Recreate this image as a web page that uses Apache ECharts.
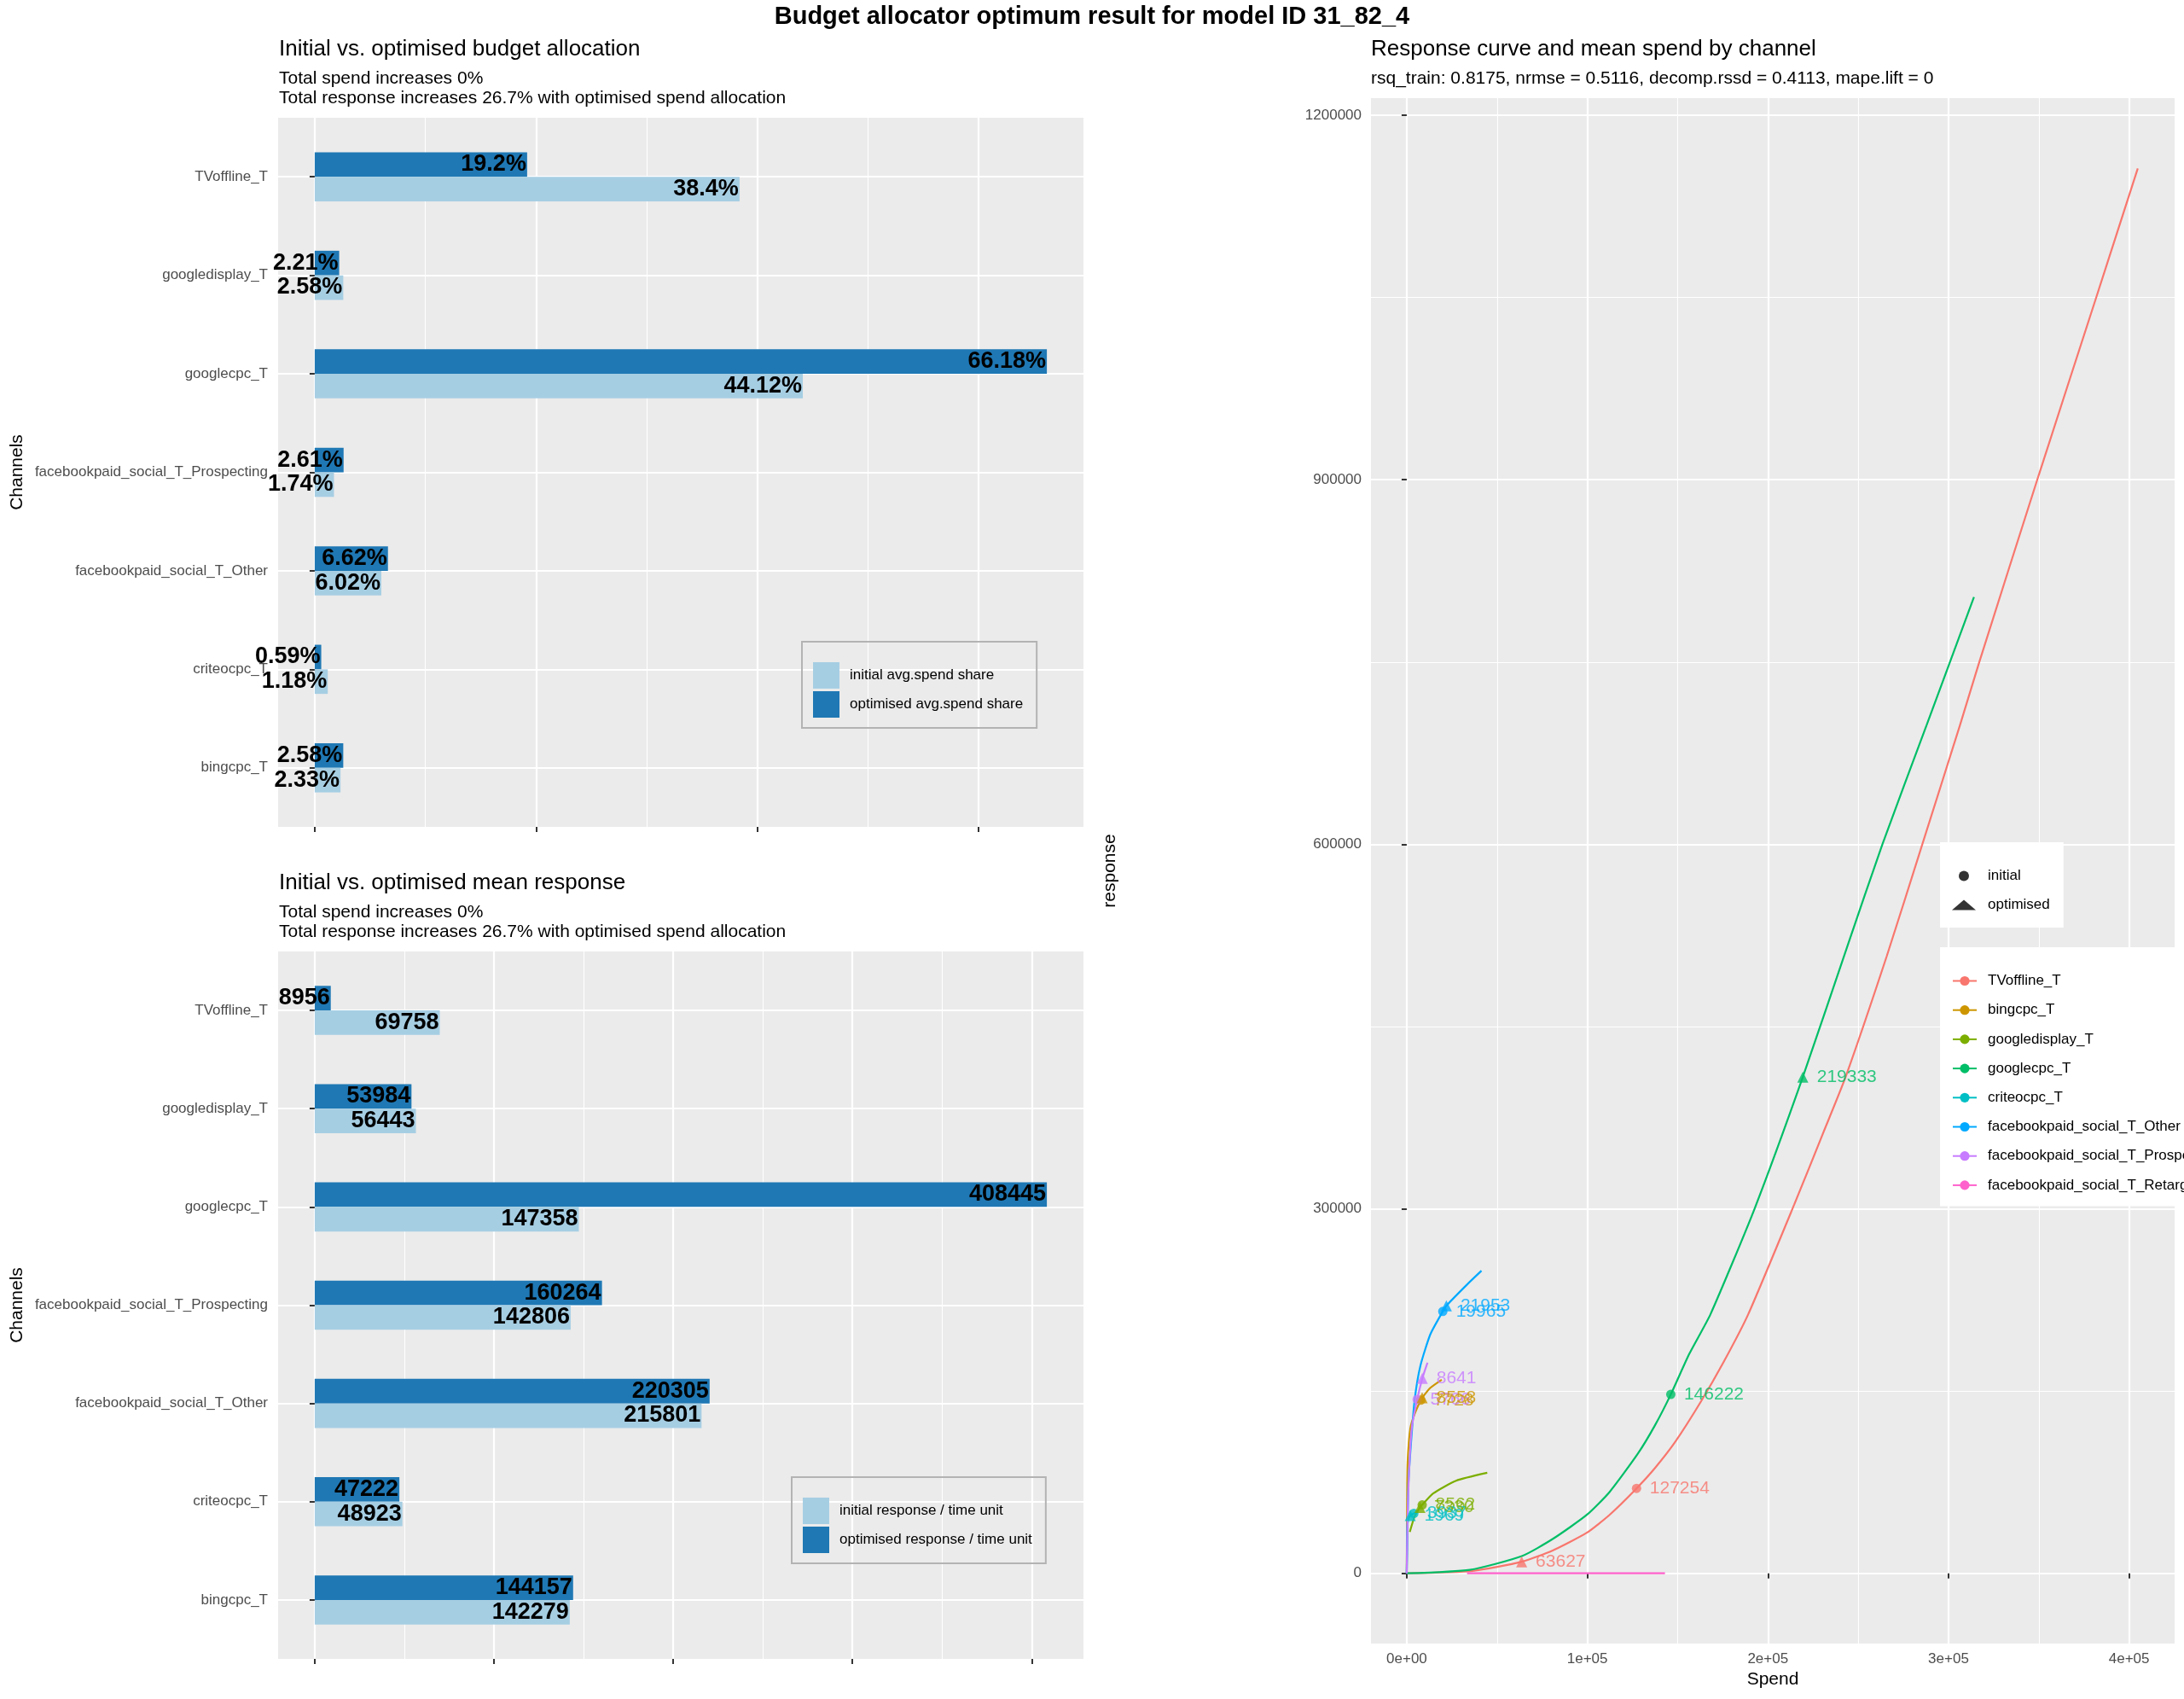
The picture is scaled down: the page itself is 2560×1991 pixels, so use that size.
<!DOCTYPE html>
<html>
<head>
<meta charset="utf-8">
<title>Budget allocator optimum result</title>
<script src="https://cdn.jsdelivr.net/npm/echarts@6/dist/echarts.min.js"></script>
<style>
  html, body { margin: 0; padding: 0; background: #fff; }
  #chart { width: 2560px; height: 1991px; }
</style>
</head>
<body>
<div id="chart"></div>
<script>
// bar panels, channels top to bottom
var barChannels = ['TVoffline_T', 'googledisplay_T', 'googlecpc_T', 'facebookpaid_social_T_Prospecting',
  'facebookpaid_social_T_Other', 'criteocpc_T', 'bingcpc_T'];
var spendShareInit = [38.4, 2.58, 44.12, 1.74, 6.02, 1.18, 2.33];
var spendShareOpt = [19.2, 2.21, 66.18, 2.61, 6.62, 0.59, 2.58];
var respInit = [69758, 56443, 147358, 142806, 215801, 48923, 142279];
var respOpt = [8956, 53984, 408445, 160264, 220305, 47222, 144157];

// axis ranges and breaks
var shareRange = [-3.309, 69.489];
var shareTicks = [0, 20, 40, 60];
var shareMinor = [10, 30, 50];
var respRange = [-20422, 428867];
var respTicks = [0, 100000, 200000, 300000, 400000];
var respMinor = [50000, 150000, 250000, 350000];
var spendRange = [-19800, 425200];
var spendTicks = [0, 100000, 200000, 300000, 400000];
var spendMinor = [50000, 150000, 250000, 350000];
var curveRange = [-57800, 1214100];
var curveTicks = [0, 300000, 600000, 900000, 1200000];
var curveMinor = [150000, 450000, 750000, 1050000];

// response curves (spend, response)
var curveChannels = ['TVoffline_T', 'bingcpc_T', 'googledisplay_T', 'googlecpc_T', 'criteocpc_T',
  'facebookpaid_social_T_Other', 'facebookpaid_social_T_Prospecting', 'facebookpaid_social_T_Retargeting'];
var curveTV = [[0, 0], [36600, 2000], [63627, 9500], [80800, 18800], [99700, 33400], [112300, 48100],
  [127254, 69900], [137500, 86700], [148500, 107800], [162600, 140600], [175300, 173400], [189100, 213200],
  [214600, 303600], [230700, 362800], [243000, 408400], [265800, 507900], [285500, 600000],
  [306300, 697800], [317000, 749800], [350000, 904000], [381500, 1048700], [404800, 1156300]];
var curveBing = [[0, 0], [200, 60000], [500, 91500], [2000, 119500], [4400, 131200], [7728, 142500],
  [8558, 144500], [13000, 152500], [19400, 159300]];
var curveDisplay = [[1700, 34000], [4400, 46900], [7330, 54300], [8562, 56300], [14600, 65700],
  [27300, 76200], [44600, 82700]];
var curveGoogle = [[0, 0], [35000, 2900], [63800, 14200], [80800, 28200], [99700, 48100], [112300, 66900],
  [128000, 98500], [137500, 121900], [146222, 147200], [156400, 180400], [168200, 213200], [192600, 300000],
  [219333, 408400], [244600, 518700], [263400, 600000], [287800, 697800], [314100, 803500]];
var curveCriteo = [[0, 0], [300, 38000], [1000, 45000], [1969, 47500], [3937, 49300], [5900, 50300]];
var curveFbOther = [[0, 0], [900, 72700], [2400, 107800], [4400, 143000], [7600, 171000], [13100, 196800],
  [19965, 215500], [21953, 220200], [33500, 237800], [41400, 249000]];
var curveFbProsp = [[0, 0], [500, 49000], [1300, 84400], [2800, 119800], [5766, 143000], [8641, 160500],
  [11500, 173400]];
var curveFbRetarget = [[33400, 0], [88000, 0], [143000, 0]];
var curves = [curveTV, curveBing, curveDisplay, curveGoogle, curveCriteo, curveFbOther, curveFbProsp, curveFbRetarget];

// mean spend points, same order as curveChannels (no point for retargeting)
var initialPoints = [[127254, 69900], [7728, 142500], [8562, 56300], [146222, 147200], [3937, 49300],
  [19965, 215500], [5766, 143000], null];
var optimisedPoints = [[63627, 9500], [8558, 144500], [7330, 54300], [219333, 408400], [1969, 47500],
  [21953, 220200], [8641, 160500], null];

var curveColors = ['#F8766D', '#CD9600', '#7CAE00', '#00BE67', '#00BFC4', '#00A9FF', '#C77CFF', '#FF61CC'];
var FONT = "'Liberation Sans', Arial, Helvetica, sans-serif";

var tickStyle = {show: true, length: 6, lineStyle: {color: '#333333', width: 2}};
var majorLine = {show: true, lineStyle: {color: '#FFFFFF', width: 2.2}};
var minorLine = {show: true, lineStyle: {color: '#FFFFFF', width: 1.1}};

function extend(a, b) { for (var k in b) a[k] = b[k]; return a; }

function sci(v) {
  if (v === 0) return '0e+00';
  var e = Math.floor(Math.log10(Math.abs(v)));
  var m = Math.round(v / Math.pow(10, e) * 100) / 100;
  return m + 'e+' + (e < 10 ? '0' : '') + e;
}

// background axis carrying the major lines and ticks
function majorX(grid, range, ticks, labels) {
  return {
    gridIndex: grid, type: 'value', min: range[0], max: range[1],
    axisLine: {show: false},
    axisTick: extend({customValues: ticks}, tickStyle),
    axisLabel: labels ? {show: true, customValues: ticks, formatter: sci, color: '#4D4D4D', fontSize: 17, margin: 10, fontFamily: FONT}
                      : {show: false, customValues: ticks},
    splitLine: majorLine
  };
}
function minorAxis(grid, range, ticks) {
  return {
    gridIndex: grid, type: 'value', min: range[0], max: range[1],
    axisLine: {show: false},
    axisTick: {show: false, customValues: ticks},
    axisLabel: {show: false},
    splitLine: minorLine
  };
}
function categoryY(grid) {
  return {
    gridIndex: grid, type: 'category', inverse: true, data: barChannels,
    axisLine: {show: false},
    axisTick: {show: true, alignWithLabel: true, length: 6, lineStyle: {color: '#333333', width: 2}},
    axisLabel: {color: '#4D4D4D', fontSize: 17, margin: 12, fontFamily: FONT},
    splitLine: {show: true, alignWithLabel: true, lineStyle: {color: '#FFFFFF', width: 2.2}},
    name: 'Channels', nameLocation: 'middle', nameGap: 295,
    nameTextStyle: {fontSize: 21, color: '#000', fontFamily: FONT}
  };
}
function barLabel(fmt) {
  return {show: true, position: 'insideRight', distance: 1, color: '#000', fontWeight: 'bold',
    fontSize: 27, fontFamily: FONT, formatter: fmt};
}
function boxLegend(left, top, names) {
  return {
    left: left, top: top, orient: 'vertical', data: names,
    icon: 'rect', itemWidth: 31, itemHeight: 31, itemGap: 3,
    padding: [24, 16, 12, 13], borderColor: '#B3B3B3', borderWidth: 2,
    textStyle: {fontSize: 17, color: '#000', fontFamily: FONT, padding: [0, 0, 0, 7]},
    selectedMode: false
  };
}

var chart = echarts.init(document.getElementById('chart'));

var lineSeries = curveChannels.map(function (name, i) {
  return {
    name: name, type: 'line', xAxisIndex: 6, yAxisIndex: 4, data: curves[i],
    symbol: 'circle', symbolSize: 11, showSymbol: false, smooth: 0.2,
    lineStyle: {width: 2.2, color: curveColors[i]}, itemStyle: {color: curveColors[i]},
    emphasis: {disabled: true}, z: 3
  };
});
function pointData(points) {
  var out = [];
  points.forEach(function (p, i) {
    if (!p) return;
    out.push({value: p, itemStyle: {color: curveColors[i]}, label: {color: curveColors[i]}});
  });
  return out;
}
var pointLabel = {show: true, position: 'right', distance: 10, fontSize: 21, fontFamily: FONT,
  formatter: function (p) { return p.value[0]; }};

var option = {
  animation: false,
  backgroundColor: '#FFFFFF',
  textStyle: {fontFamily: FONT},
  title: [
    {text: 'Budget allocator optimum result for model ID 31_82_4', left: 'center', top: 5, padding: 0,
     textStyle: {fontSize: 29, fontWeight: 'bold', color: '#000', fontFamily: FONT}},
    {text: 'Initial vs. optimised budget allocation',
     subtext: 'Total spend increases 0%\nTotal response increases 26.7% with optimised spend allocation',
     left: 327, top: 43, padding: 0, itemGap: 8,
     textStyle: {fontSize: 26, lineHeight: 30, fontWeight: 'normal', color: '#000', fontFamily: FONT},
     subtextStyle: {fontSize: 21, lineHeight: 23, color: '#000', fontFamily: FONT}},
    {text: 'Initial vs. optimised mean response',
     subtext: 'Total spend increases 0%\nTotal response increases 26.7% with optimised spend allocation',
     left: 327, top: 1020, padding: 0, itemGap: 8,
     textStyle: {fontSize: 26, lineHeight: 30, fontWeight: 'normal', color: '#000', fontFamily: FONT},
     subtextStyle: {fontSize: 21, lineHeight: 23, color: '#000', fontFamily: FONT}},
    {text: 'Response curve and mean spend by channel',
     subtext: 'rsq_train: 0.8175, nrmse = 0.5116, decomp.rssd = 0.4113, mape.lift = 0',
     left: 1607, top: 43, padding: 0, itemGap: 8,
     textStyle: {fontSize: 26, lineHeight: 30, fontWeight: 'normal', color: '#000', fontFamily: FONT},
     subtextStyle: {fontSize: 21, lineHeight: 23, color: '#000', fontFamily: FONT}}
  ],
  grid: [
    {left: 326, top: 138, width: 944, height: 831, show: true, backgroundColor: '#EBEBEB', borderWidth: 0},
    {left: 326, top: 149.5, width: 944, height: 808},
    {left: 326, top: 1115, width: 944, height: 829, show: true, backgroundColor: '#EBEBEB', borderWidth: 0},
    {left: 326, top: 1126.5, width: 944, height: 806},
    {left: 1607, top: 115, width: 942, height: 1811, show: true, backgroundColor: '#EBEBEB', borderWidth: 0}
  ],
  xAxis: [
    majorX(0, shareRange, shareTicks, false),
    minorAxis(0, shareRange, shareMinor),
    {gridIndex: 1, type: 'value', min: shareRange[0], max: shareRange[1], show: false},
    majorX(2, respRange, respTicks, false),
    minorAxis(2, respRange, respMinor),
    {gridIndex: 3, type: 'value', min: respRange[0], max: respRange[1], show: false},
    extend(majorX(4, spendRange, spendTicks, true), {
      name: 'Spend', nameLocation: 'middle', nameGap: 31,
      nameTextStyle: {fontSize: 21, color: '#000', fontFamily: FONT}}),
    minorAxis(4, spendRange, spendMinor)
  ],
  yAxis: [
    {gridIndex: 0, type: 'value', show: false},
    categoryY(1),
    {gridIndex: 2, type: 'value', show: false},
    categoryY(3),
    {gridIndex: 4, type: 'value', min: curveRange[0], max: curveRange[1],
     axisLine: {show: false},
     axisTick: extend({customValues: curveTicks}, tickStyle),
     axisLabel: {customValues: curveTicks, color: '#4D4D4D', fontSize: 17, margin: 11, fontFamily: FONT,
                 formatter: function (v) { return String(v); }},
     splitLine: majorLine,
     name: 'response', nameLocation: 'middle', nameGap: 295,
     nameTextStyle: {fontSize: 21, color: '#000', fontFamily: FONT}},
    minorAxis(4, curveRange, curveMinor)
  ],
  legend: [
    boxLegend(940, 752, ['initial avg.spend share', 'optimised avg.spend share']),
    boxLegend(928, 1731, ['initial response / time unit', 'optimised response / time unit']),
    {left: 2274, top: 987, orient: 'vertical', data: ['initial', 'optimised'],
     itemWidth: 28, itemHeight: 12, itemGap: 17, padding: [31, 16, 18, 14],
     backgroundColor: '#FFFFFF', selectedMode: false,
     textStyle: {fontSize: 17, color: '#000', fontFamily: FONT, padding: [0, 0, 0, 9]}},
    {left: 2274, top: 1110, orient: 'vertical', data: curveChannels,
     itemWidth: 28, itemHeight: 14, itemGap: 17.2, padding: [31, 30, 16, 14],
     backgroundColor: '#FFFFFF', selectedMode: false,
     textStyle: {fontSize: 17, color: '#000', fontFamily: FONT, padding: [0, 0, 0, 8]}}
  ],
  series: [
    {name: 'optimised avg.spend share', type: 'bar', xAxisIndex: 2, yAxisIndex: 1, data: spendShareOpt,
     barWidth: 28.8, barGap: '0%', itemStyle: {color: '#1F78B4'},
     label: barLabel(function (p) { return p.value + '%'; })},
    {name: 'initial avg.spend share', type: 'bar', xAxisIndex: 2, yAxisIndex: 1, data: spendShareInit,
     barWidth: 28.8, barGap: '0%', itemStyle: {color: '#A6CEE3'},
     label: barLabel(function (p) { return p.value + '%'; })},
    {name: 'optimised response / time unit', type: 'bar', xAxisIndex: 5, yAxisIndex: 3, data: respOpt,
     barWidth: 28.8, barGap: '0%', itemStyle: {color: '#1F78B4'},
     label: barLabel(function (p) { return p.value; })},
    {name: 'initial response / time unit', type: 'bar', xAxisIndex: 5, yAxisIndex: 3, data: respInit,
     barWidth: 28.8, barGap: '0%', itemStyle: {color: '#A6CEE3'},
     label: barLabel(function (p) { return p.value; })}
  ].concat(lineSeries).concat([
    {name: 'initial', type: 'scatter', xAxisIndex: 6, yAxisIndex: 4, symbol: 'circle', symbolSize: 11,
     itemStyle: {color: '#000'}, data: pointData(initialPoints), label: pointLabel, z: 4},
    {name: 'optimised', type: 'scatter', xAxisIndex: 6, yAxisIndex: 4, symbol: 'triangle', symbolSize: 13,
     itemStyle: {color: '#000'}, data: pointData(optimisedPoints), label: pointLabel, z: 4}
  ])
};

chart.setOption(option);
</script>
</body>
</html>
